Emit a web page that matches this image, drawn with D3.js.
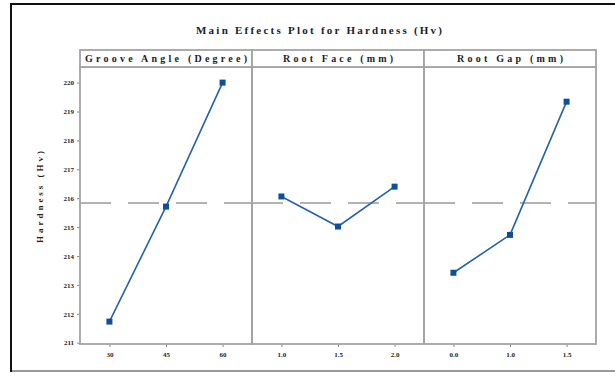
<!DOCTYPE html>
<html>
<head>
<meta charset="utf-8">
<script src="https://cdn.jsdelivr.net/npm/d3@7"></script>
<style>
  html, body { margin: 0; padding: 0; background: #fff; }
  svg { display: block; }
  text { font-family: "Liberation Serif", "DejaVu Serif", serif; font-weight: bold; fill: #1c1c2a; }
</style>
</head>
<body>
<svg id="chart" width="615" height="381"></svg>
<script>
// ---- data ----
const chartTitle = "Main Effects Plot for Hardness (Hv)";
const yLabel = "Hardness (Hv)";
const factorNames = ["Groove Angle (Degree)", "Root Face (mm)", "Root Gap (mm)"];
const grooveLevels = ["30", "45", "60"];
const grooveMeans = [211.73, 215.71, 220.0];
const rootFaceLevels = ["1.0", "1.5", "2.0"];
const rootFaceMeans = [216.06, 215.02, 216.40];
const rootGapLevels = ["0.0", "1.0", "1.5"];
const rootGapMeans = [213.42, 214.73, 219.34];
const yTicks = [211, 212, 213, 214, 215, 216, 217, 218, 219, 220];
const grandMean = 215.83;

const factors = [
  { name: factorNames[0], levels: grooveLevels, means: grooveMeans },
  { name: factorNames[1], levels: rootFaceLevels, means: rootFaceMeans },
  { name: factorNames[2], levels: rootGapLevels, means: rootGapMeans }
];

// ---- layout ----
const svg = d3.select("#chart");
const plotLeft = 80, plotRight = 596, plotTop = 67, plotBottom = 344, stripTop = 50;
const panelW = (plotRight - plotLeft) / factors.length;

// outer frame
svg.append("line").attr("x1", 11).attr("x2", 11).attr("y1", 4).attr("y2", 372)
  .attr("stroke", "#111").attr("stroke-width", 2);
svg.append("line").attr("x1", 10).attr("x2", 615).attr("y1", 4).attr("y2", 4)
  .attr("stroke", "#111").attr("stroke-width", 2);
svg.append("line").attr("x1", 12).attr("x2", 615).attr("y1", 371).attr("y2", 371)
  .attr("stroke", "#9a9a9a").attr("stroke-width", 2);

// title
svg.append("text").attr("x", 319).attr("y", 34).attr("text-anchor", "middle")
  .attr("font-size", 11).attr("textLength", 246).attr("lengthAdjust", "spacing")
  .text(chartTitle);

// y scale
const y = d3.scaleLinear().domain([210.955, 220.54]).range([plotBottom, plotTop]);

// y axis
const yAxis = svg.append("g").attr("transform", `translate(${plotLeft},0)`)
  .call(d3.axisLeft(y).tickValues(yTicks).tickFormat(d3.format("d")).tickSize(3).tickPadding(3));
yAxis.select(".domain").remove();
yAxis.selectAll(".tick line").attr("stroke", "#888");
yAxis.selectAll(".tick text").attr("font-size", 7).attr("fill", "#333")
  .style("font-family", '"Liberation Serif", serif').style("font-weight", "bold");

// y label
svg.append("text").attr("transform", `translate(40,197) rotate(-90)`)
  .attr("text-anchor", "middle").attr("dy", "0.35em").attr("font-size", 9)
  .attr("textLength", 92).attr("lengthAdjust", "spacing")
  .text(yLabel);

const stripTextLen = [162, 110, 106];

factors.forEach((f, i) => {
  const x0 = plotLeft + i * panelW, x1 = x0 + panelW;
  const x = d3.scalePoint().domain(f.levels).range([x0, x1]).padding(0.52);
  const g = svg.append("g");

  // grand mean reference line (dash pattern restarts in each panel)
  g.append("line").attr("x1", x0).attr("x2", x1).attr("y1", y(grandMean)).attr("y2", y(grandMean))
    .attr("stroke", "#9a9a9a").attr("stroke-width", 1.5).attr("stroke-dasharray", "31,17");

  // x axis
  const xa = svg.append("g").attr("transform", `translate(0,${plotBottom})`)
    .call(d3.axisBottom(x).tickSize(3).tickPadding(5));
  xa.select(".domain").remove();
  xa.selectAll(".tick line").attr("stroke", "#888");
  xa.selectAll(".tick text").attr("font-size", 7).attr("fill", "#333")
    .style("font-family", '"Liberation Serif", serif').style("font-weight", "bold");

  // line + markers
  const pts = f.levels.map((l, k) => [x(l), y(f.means[k])]);
  g.append("path").attr("d", d3.line()(pts)).attr("fill", "none")
    .attr("stroke", "#2462ad").attr("stroke-width", 1.6);
  g.selectAll("rect.pt").data(pts).join("rect").attr("class", "pt")
    .attr("x", d => d[0] - 3).attr("y", d => d[1] - 3).attr("width", 6).attr("height", 6)
    .attr("fill", "#0d4f9e");

  // panel border
  svg.append("rect").attr("x", x0).attr("y", plotTop).attr("width", panelW).attr("height", plotBottom - plotTop)
    .attr("fill", "none").attr("stroke", "#a3a3a3").attr("stroke-width", 1.8);
  // strip
  svg.append("rect").attr("x", x0).attr("y", stripTop).attr("width", panelW).attr("height", plotTop - stripTop)
    .attr("fill", "#fff").attr("stroke", "#a3a3a3").attr("stroke-width", 1.8);
  svg.append("text").attr("x", (x0 + x1) / 2).attr("y", 61.5).attr("text-anchor", "middle")
    .attr("font-size", 10).attr("textLength", stripTextLen[i]).attr("lengthAdjust", "spacing")
    .text(f.name);
});
</script>
</body>
</html>
